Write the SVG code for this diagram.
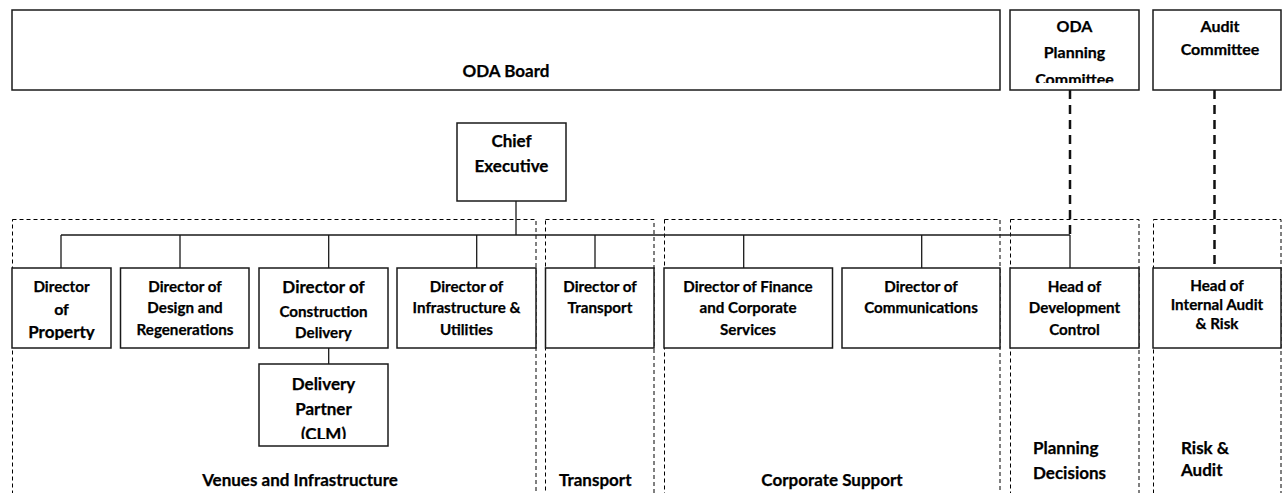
<svg xmlns="http://www.w3.org/2000/svg" width="1282" height="493" viewBox="0 0 1282 493">
  <style>
    .box { fill: #ffffff; stroke: #1a1a1a; stroke-width: 1.5; }
    .area { fill: none; stroke: #000; stroke-width: 1; stroke-dasharray: 4 3; }
    .link { fill: none; stroke: #1a1a1a; stroke-width: 1.3; }
    .dotted { fill: none; stroke: #111; stroke-width: 2.5; stroke-dasharray: 9 6; }
    text { font-family: Lato, "Liberation Sans", sans-serif; font-weight: bold; fill: #000; stroke: #000; stroke-width: 0.25; }
    .c { text-anchor: middle; }
    .s { font-size: 15.2px; }
    .m { font-size: 16px; }
    .l { font-size: 17px; }
  </style>
  <defs>
    <clipPath id="clipPlanning"><rect x="1010" y="10" width="129" height="73"/></clipPath>
    <clipPath id="clipProperty"><rect x="12" y="268" width="99" height="72"/></clipPath>
    <clipPath id="clipPartner"><rect x="259" y="364" width="129" height="75"/></clipPath>
  </defs>

  <!-- dashed areas: open at the bottom edge -->
  <g id="areas">
    <g id="area-venues"><rect class="area" x="12.5" y="219.5" width="523.5" height="300"/>
      <text class="l c" x="300" y="486">Venues and Infrastructure</text></g>
    <g id="area-transport"><rect class="area" x="545.5" y="219.5" width="108.5" height="300"/>
      <text class="l" x="559" y="486">Transport</text></g>
    <g id="area-corporate"><rect class="area" x="664.5" y="219.5" width="335.5" height="300"/>
      <text class="l c" x="832" y="486">Corporate Support</text></g>
    <g id="area-planning"><rect class="area" x="1010.5" y="219.5" width="128.5" height="300"/>
      <text class="l" x="1033" y="454">Planning</text>
      <text class="l" x="1033" y="479">Decisions</text></g>
    <g id="area-risk"><rect class="area" x="1153.5" y="219.5" width="127.5" height="300"/>
      <text class="l" x="1181" y="454">Risk &amp;</text>
      <text class="l" x="1181" y="476">Audit</text></g>
  </g>

  <!-- connectors -->
  <g id="connectors">
    <path class="link" d="M516 200 V235 M61 235 H1070 M61 235 V268 M180 235 V268 M328.7 235 V268 M476.7 235 V268 M595 235 V268 M743.7 235 V268 M921.7 235 V268 M1070 235 V268 M328.7 348 V364"/>
    <path class="dotted" d="M1070 90 V234"/>
    <path class="dotted" d="M1214.5 90 V268"/>
  </g>

  <g id="oda-board">
    <rect class="box" x="12" y="10" width="988" height="80"/>
    <text class="l c" x="506" y="77">ODA Board</text>
  </g>
  <g id="oda-planning-committee">
    <rect class="box" x="1010" y="10" width="129" height="80"/>
    <g clip-path="url(#clipPlanning)">
      <text class="m c" x="1074.5" y="32">ODA</text>
      <text class="m c" x="1074.5" y="58">Planning</text>
      <text class="m c" x="1074.5" y="85">Committee</text>
    </g>
  </g>
  <g id="audit-committee">
    <rect class="box" x="1153" y="10" width="128" height="80"/>
    <text class="m c" x="1220" y="32">Audit</text>
    <text class="m c" x="1220" y="55">Committee</text>
  </g>
  <g id="chief-executive">
    <rect class="box" x="457" y="123" width="109" height="78"/>
    <text class="l c" x="511.5" y="147">Chief</text>
    <text class="l c" x="511.5" y="172">Executive</text>
  </g>

  <g id="director-property">
    <rect class="box" x="12" y="268" width="99" height="80"/>
    <g clip-path="url(#clipProperty)">
      <text class="s c" x="61.5" y="292">Director</text>
      <text class="m c" x="61.5" y="315">of</text>
      <text class="l c" x="61.5" y="338">Property</text>
    </g>
  </g>
  <g id="director-design">
    <rect class="box" x="120.5" y="268" width="128.5" height="80"/>
    <text class="s c" x="185" y="292">Director of</text>
    <text class="s c" x="185" y="313">Design and</text>
    <text class="s c" x="185" y="335">Regenerations</text>
  </g>
  <g id="director-construction">
    <rect class="box" x="259" y="268" width="129" height="80"/>
    <text class="l c" x="323.5" y="293">Director of</text>
    <text class="s c" x="323.5" y="317">Construction</text>
    <text class="s c" x="323.5" y="338">Delivery</text>
  </g>
  <g id="delivery-partner">
    <rect class="box" x="259" y="364" width="129" height="82"/>
    <g clip-path="url(#clipPartner)">
      <text class="l c" x="323.5" y="390">Delivery</text>
      <text class="l c" x="323.5" y="415">Partner</text>
      <text class="l c" x="323.5" y="440">(CLM)</text>
    </g>
  </g>
  <g id="director-infrastructure">
    <rect class="box" x="397" y="268" width="139" height="80"/>
    <text class="s c" x="466.5" y="292">Director of</text>
    <text class="s c" x="466.5" y="313">Infrastructure &amp;</text>
    <text class="s c" x="466.5" y="335">Utilities</text>
  </g>
  <g id="director-transport">
    <rect class="box" x="545.5" y="268" width="108.5" height="80"/>
    <text class="s c" x="600" y="292">Director of</text>
    <text class="s c" x="600" y="313">Transport</text>
  </g>
  <g id="director-finance">
    <rect class="box" x="664" y="268" width="168.5" height="80"/>
    <text class="s c" x="748" y="292">Director of Finance</text>
    <text class="s c" x="748" y="313">and Corporate</text>
    <text class="s c" x="748" y="335">Services</text>
  </g>
  <g id="director-communications">
    <rect class="box" x="842" y="268" width="158" height="80"/>
    <text class="s c" x="921" y="292">Director of</text>
    <text class="s c" x="921" y="313">Communications</text>
  </g>
  <g id="head-development-control">
    <rect class="box" x="1010" y="268" width="129" height="80"/>
    <text class="s c" x="1074.5" y="292">Head of</text>
    <text class="s c" x="1074.5" y="313">Development</text>
    <text class="s c" x="1074.5" y="335">Control</text>
  </g>
  <g id="head-internal-audit">
    <rect class="box" x="1153" y="268" width="128" height="80"/>
    <text class="s c" x="1217" y="291">Head of</text>
    <text class="s c" x="1217" y="310">Internal Audit</text>
    <text class="s c" x="1217" y="329">&amp; Risk</text>
  </g>
</svg>
